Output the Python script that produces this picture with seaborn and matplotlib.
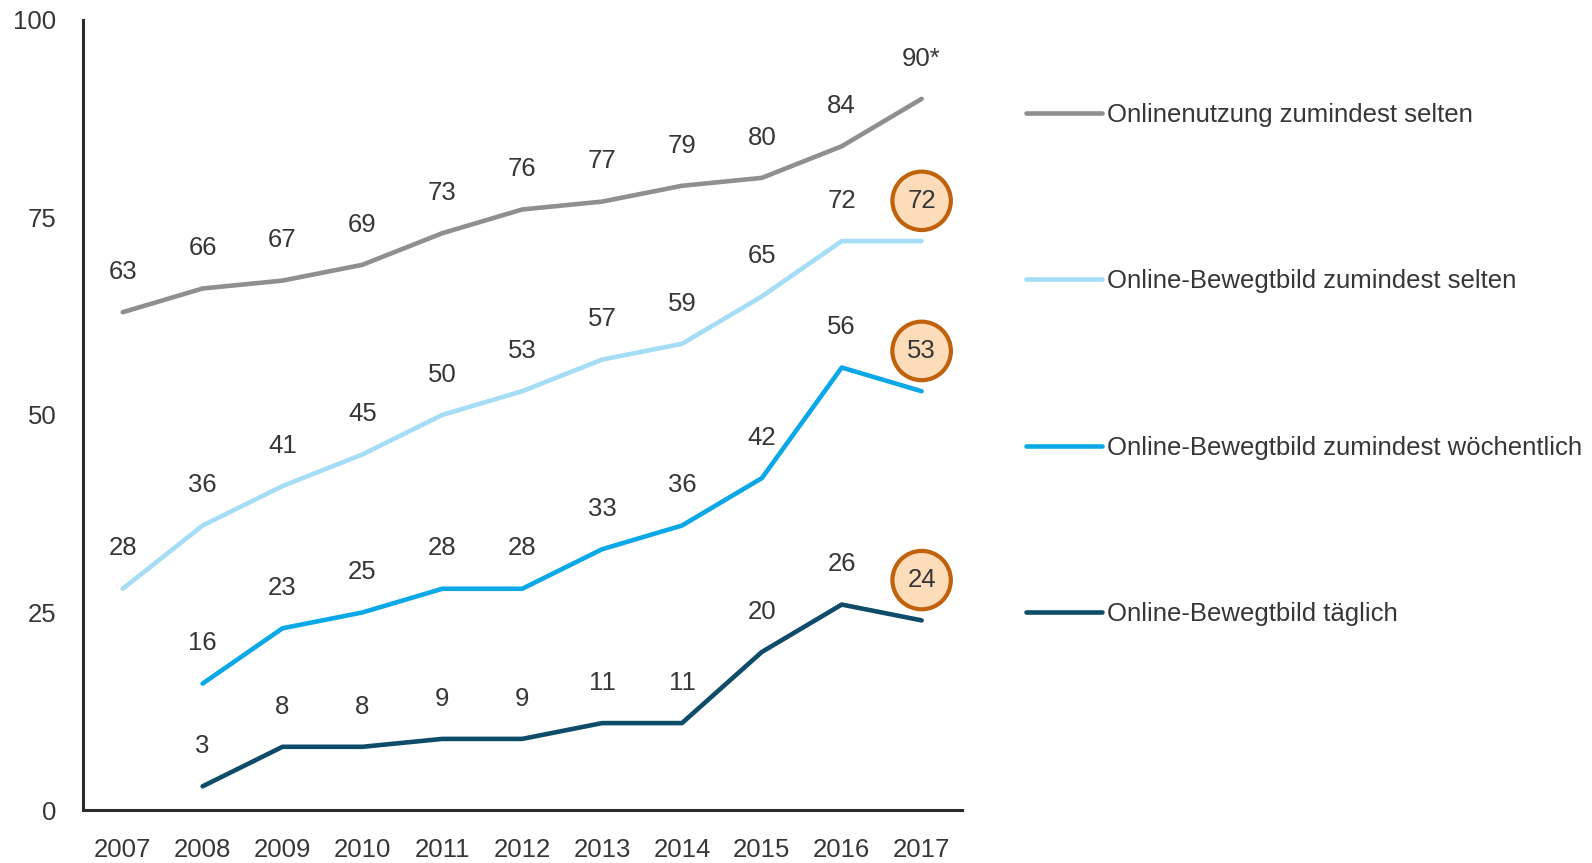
import matplotlib
matplotlib.use('Agg')
import matplotlib.pyplot as plt
import seaborn as sns
import numpy as np
import pandas as pd
from matplotlib.ticker import FixedLocator

# --- Daten ---
years = [2007, 2008, 2009, 2010, 2011, 2012, 2013, 2014, 2015, 2016, 2017]
series_names = [
    'Onlinenutzung zumindest selten',
    'Online-Bewegtbild zumindest selten',
    'Online-Bewegtbild zumindest wöchentlich',
    'Online-Bewegtbild täglich',
]
online_selten = [63, 66, 67, 69, 73, 76, 77, 79, 80, 84, 90]
bewegt_selten = [28, 36, 41, 45, 50, 53, 57, 59, 65, 72, 72]
bewegt_woechentlich = [np.nan, 16, 23, 25, 28, 28, 33, 36, 42, 56, 53]
bewegt_taeglich = [np.nan, 3, 8, 8, 9, 9, 11, 11, 20, 26, 24]
label_texts_last = ['90*', None, None, None]  # Sonderbeschriftung 2017
circled_last = [False, True, True, True]
colors = ['#8e8f91', '#a5dcf6', '#0aa8e6', '#0f4c69']
y_ticks = [0, 25, 50, 75, 100]

all_values = [online_selten, bewegt_selten, bewegt_woechentlich, bewegt_taeglich]
df = pd.concat([
    pd.DataFrame({'Jahr': years, 'Wert': vals, 'Serie': name})
    for name, vals in zip(series_names, all_values)
])

text_color = '#363636'
fs = 18.5
sns.set_style('white')
plt.rcParams['font.family'] = ['Liberation Sans', 'DejaVu Sans']
plt.rcParams['text.color'] = text_color

fig = plt.figure(figsize=(15.92, 8.63), dpi=100)
ax = fig.add_axes([0.052, 0.0614, 0.552, 0.9156])

sns.lineplot(data=df.dropna(), x='Jahr', y='Wert', hue='Serie', hue_order=series_names,
             palette=colors, linewidth=3.3, ax=ax, legend=True)
for line in ax.lines:
    line.set_solid_capstyle('round')
    line.set_solid_joinstyle('round')

# Datenbeschriftungen
for i, (name, vals) in enumerate(zip(series_names, all_values)):
    for j, (yr, v) in enumerate(zip(years, vals)):
        if np.isnan(v):
            continue
        txt = f'{int(v)}'
        is_last = j == len(years) - 1
        if is_last and label_texts_last[i]:
            txt = label_texts_last[i]
        kw = {}
        if is_last and circled_last[i]:
            kw['bbox'] = dict(boxstyle='circle,pad=0.58', fc='#fddcba', ec='#c0610b', lw=3)
        ax.annotate(txt, (yr, v), xytext=(0, 29), textcoords='offset points',
                    ha='center', va='center', fontsize=fs, color=text_color, **kw)

ax.set_xlim(years[0] - 0.5, years[-1] + 0.5)
ax.set_ylim(0, 100)
ax.set_yticks(y_ticks)
ax.set_xticks(years)
ax.xaxis.set_minor_locator(FixedLocator([y - 0.5 for y in years] + [years[-1] + 0.5]))
ax.tick_params(axis='x', which='major', length=0, pad=20, labelsize=fs, labelcolor=text_color)
ax.tick_params(axis='x', which='minor', length=8, width=2, color='#2b2b2b', direction='out')
ax.tick_params(axis='y', length=9, width=2, color='#2b2b2b', direction='out', pad=10,
               labelsize=fs, labelcolor=text_color)
ax.set_xlabel('')
ax.set_ylabel('')
sns.despine(ax=ax)
for side in ['left', 'bottom']:
    ax.spines[side].set_linewidth(2.2)
    ax.spines[side].set_color('#2b2b2b')

handles, labels = ax.get_legend_handles_labels()
ax.get_legend().remove()
fig.legend(handles, labels, loc='upper left', bbox_to_anchor=(0.6444, 0.8805),
           frameon=False, fontsize=fs, handlelength=2.95, handletextpad=0.2,
           labelspacing=5.54, borderpad=0, borderaxespad=0)

fig.savefig('out.png', dpi=100)
